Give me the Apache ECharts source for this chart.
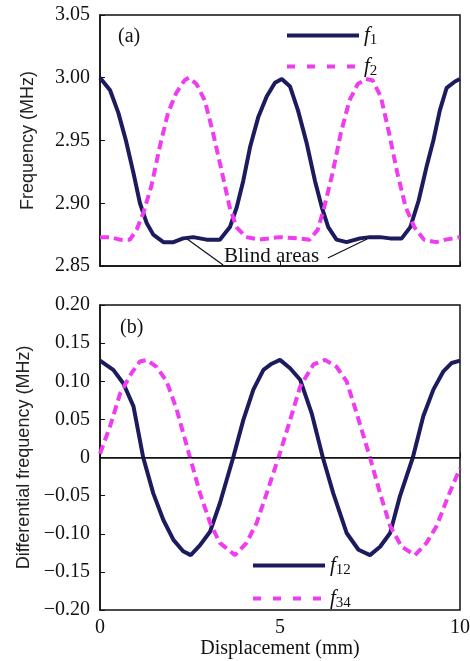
<!DOCTYPE html>
<html>
<head>
<meta charset="utf-8">
<script src="https://cdn.jsdelivr.net/npm/echarts@6/dist/echarts.min.js"></script>
<style>
  html, body { margin: 0; padding: 0; background: #fff; }
  #main { width: 470px; height: 661px; }
</style>
</head>
<body>
<div id="main"></div>
<script>
// ---- panel (a): frequency vs displacement ----
const f1X = [0, 0.28, 0.51, 0.72, 0.93, 1.11, 1.30, 1.48, 1.76, 2.04, 2.31, 2.59, 2.96, 3.33, 3.61, 3.80, 3.98, 4.17, 4.40, 4.63, 4.86, 5.05, 5.28, 5.50, 5.74, 5.97, 6.16, 6.34, 6.57, 6.85, 7.22, 7.50, 7.78, 8.06, 8.38, 8.62, 8.85, 9.07, 9.26, 9.44, 9.63, 9.86, 10];
const f1Y = [3.000, 2.990, 2.972, 2.950, 2.924, 2.900, 2.884, 2.875, 2.869, 2.869, 2.872, 2.873, 2.871, 2.871, 2.881, 2.897, 2.918, 2.945, 2.969, 2.985, 2.996, 2.999, 2.993, 2.974, 2.948, 2.918, 2.897, 2.881, 2.871, 2.869, 2.872, 2.873, 2.873, 2.872, 2.872, 2.881, 2.902, 2.929, 2.950, 2.974, 2.992, 2.997, 2.999];
const f2X = [0, 0.28, 0.55, 0.83, 1.02, 1.20, 1.43, 1.66, 1.89, 2.12, 2.35, 2.47, 2.68, 2.91, 3.14, 3.37, 3.60, 3.79, 4.06, 4.43, 4.99, 5.54, 5.82, 6.05, 6.23, 6.46, 6.69, 6.93, 7.16, 7.39, 7.57, 7.80, 8.03, 8.26, 8.49, 8.73, 9.00, 9.33, 9.60, 10];
const f2Y = [2.873, 2.873, 2.871, 2.871, 2.879, 2.892, 2.914, 2.945, 2.972, 2.988, 2.998, 3.000, 2.995, 2.982, 2.956, 2.927, 2.897, 2.881, 2.873, 2.871, 2.873, 2.872, 2.871, 2.879, 2.897, 2.924, 2.956, 2.982, 2.995, 2.999, 2.998, 2.985, 2.956, 2.924, 2.897, 2.881, 2.871, 2.869, 2.871, 2.873];

// ---- panel (b): differential frequency ----
const f12X = [0, 0.37, 0.65, 0.93, 1.20, 1.48, 1.76, 2.04, 2.31, 2.52, 2.78, 3.06, 3.33, 3.70, 3.98, 4.26, 4.54, 4.77, 5.00, 5.28, 5.56, 5.88, 6.19, 6.48, 6.85, 7.18, 7.50, 7.78, 8.06, 8.33, 8.69, 8.98, 9.26, 9.54, 9.77, 10];
const f12Y = [0.127, 0.115, 0.097, 0.067, 0.000, -0.047, -0.082, -0.108, -0.123, -0.128, -0.115, -0.097, -0.060, 0.000, 0.049, 0.089, 0.115, 0.123, 0.128, 0.117, 0.102, 0.058, 0.000, -0.047, -0.099, -0.121, -0.128, -0.117, -0.099, -0.051, 0.000, 0.054, 0.089, 0.113, 0.124, 0.127];
const f34X = [0, 0.28, 0.56, 0.88, 1.11, 1.30, 1.57, 1.85, 2.13, 2.50, 2.78, 3.06, 3.33, 3.75, 4.07, 4.35, 4.63, 5.00, 5.28, 5.56, 5.93, 6.25, 6.57, 6.85, 7.13, 7.50, 7.78, 8.06, 8.38, 8.75, 9.07, 9.35, 9.67, 10];
const f34Y = [0.005, 0.041, 0.084, 0.111, 0.126, 0.128, 0.119, 0.100, 0.063, 0.000, -0.047, -0.086, -0.112, -0.128, -0.112, -0.086, -0.047, 0.006, 0.049, 0.093, 0.122, 0.128, 0.119, 0.100, 0.058, 0.000, -0.047, -0.090, -0.117, -0.128, -0.112, -0.090, -0.051, -0.014];

const xTicks = [0, 5, 10];

const navy = '#1b1b5e';
const pink = '#f03cf0';
const serif = '"Liberation Serif", "Times New Roman", serif';
const sans = '"Liberation Sans", Arial, sans-serif';

function zip(xs, ys) {
  return xs.map((x, i) => [x, ys[i]]);
}

// legend text: italic f + subscript
const legendRich = {
  i: { fontFamily: serif, fontStyle: 'italic', fontSize: 21, color: '#111' },
  s: { fontFamily: serif, fontSize: 15, color: '#111', padding: [10, 0, 0, 0] }
};
function subName(name) {
  return '{i|f}{s|' + name.slice(1) + '}';
}

const chart = echarts.init(document.getElementById('main'));

function xAxisOf(idx, showLabel) {
  return {
    type: 'value', gridIndex: idx, min: 0, max: 10, interval: 5,
    axisLine: { show: true, lineStyle: { color: '#111', width: 1.5 } },
    axisTick: { show: true, inside: true, length: 5, lineStyle: { color: '#111' } },
    splitLine: { show: false },
    axisLabel: {
      show: showLabel, margin: 8, fontFamily: serif, fontSize: 20, color: '#111',
      formatter: v => xTicks.includes(v) ? String(v) : ''
    },
    name: showLabel ? 'Displacement (mm)' : '',
    nameLocation: 'middle', nameGap: 28,
    nameTextStyle: { fontFamily: serif, fontSize: 20, color: '#111' }
  };
}

const option = {
  animation: false,
  backgroundColor: '#fff',
  grid: [
    { left: 100, right: 10, top: 15, bottom: 395, show: true, borderColor: '#111', borderWidth: 1.5, outerBoundsMode: 'none' },
    { left: 100, right: 10, top: 305, bottom: 51, show: true, borderColor: '#111', borderWidth: 1.5, outerBoundsMode: 'none' }
  ],
  xAxis: [xAxisOf(0, false), xAxisOf(1, true)],
  yAxis: [
    {
      type: 'value', gridIndex: 0, min: 2.85, max: 3.05, interval: 0.05,
      axisLine: { show: true, lineStyle: { color: '#111', width: 1.5 } },
      axisTick: { show: true, inside: true, length: 5, lineStyle: { color: '#111' } },
      splitLine: { show: false },
      axisLabel: { margin: 10, fontFamily: serif, fontSize: 20, color: '#111', formatter: v => v.toFixed(2) },
      name: 'Frequency (MHz)', nameLocation: 'middle', nameGap: 63,
      nameTextStyle: { fontFamily: sans, fontSize: 18, color: '#222' }
    },
    {
      type: 'value', gridIndex: 1, min: -0.2, max: 0.2, interval: 0.05,
      axisLine: { show: true, lineStyle: { color: '#111', width: 1.5 } },
      axisTick: { show: true, inside: true, length: 5, lineStyle: { color: '#111' } },
      splitLine: { show: false },
      axisLabel: {
        margin: 10, fontFamily: serif, fontSize: 20, color: '#111',
        formatter: v => Math.abs(v) < 1e-9 ? '0' : (v < 0 ? '\u2212' + Math.abs(v).toFixed(2) : v.toFixed(2))
      },
      name: 'Differential frequency (MHz)', nameLocation: 'middle', nameGap: 64,
      nameTextStyle: { fontFamily: sans, fontSize: 18, color: '#222' }
    }
  ],
  legend: [
    {
      orient: 'vertical', left: 280, top: 20, itemWidth: 72, itemHeight: 12, itemGap: 8,
      itemStyle: { opacity: 0 },
      lineStyle: { width: 4 },
      data: [
        { name: 'f1' },
        { name: 'f2', lineStyle: { type: [8, 12], width: 4 } }
      ],
      formatter: subName,
      textStyle: { rich: legendRich }
    },
    {
      orient: 'vertical', left: 246, top: 550, itemWidth: 72, itemHeight: 12, itemGap: 10,
      itemStyle: { opacity: 0 },
      lineStyle: { width: 4 },
      data: [
        { name: 'f12' },
        { name: 'f34', lineStyle: { type: [8, 12], width: 4 } }
      ],
      formatter: subName,
      textStyle: { rich: legendRich }
    }
  ],
  graphic: [
    { type: 'text', left: 118, top: 27, style: { text: '(a)', font: '20px ' + serif, fill: '#111' } },
    { type: 'text', left: 120, top: 318, style: { text: '(b)', font: '20px ' + serif, fill: '#111' } },
    { type: 'text', left: 224, top: 246, style: { text: 'Blind areas', font: '21px ' + serif, fill: '#111' } }
  ],
  series: [
    {
      name: 'f1', type: 'line', xAxisIndex: 0, yAxisIndex: 0,
      data: zip(f1X, f1Y), symbol: 'none',
      lineStyle: { color: navy, width: 4 }, itemStyle: { color: navy },
      markLine: {
        silent: true, symbol: 'none', label: { show: false },
        lineStyle: { color: '#111', width: 1.2, type: 'solid' },
        data: [
          [{ coord: [2.42, 2.8715] }, { coord: [3.42, 2.8508] }],
          [{ coord: [6.33, 2.8564] }, { coord: [7.42, 2.8715] }]
        ]
      }
    },
    {
      name: 'f2', type: 'line', xAxisIndex: 0, yAxisIndex: 0,
      data: zip(f2X, f2Y), symbol: 'none',
      lineStyle: { color: pink, width: 4, type: [9, 5] }, itemStyle: { color: pink }
    },
    {
      name: 'f12', type: 'line', xAxisIndex: 1, yAxisIndex: 1,
      data: zip(f12X, f12Y), symbol: 'none',
      lineStyle: { color: navy, width: 4 }, itemStyle: { color: navy },
      markLine: {
        silent: true, symbol: 'none', label: { show: false },
        lineStyle: { color: '#111', width: 1, type: 'solid' },
        data: [{ yAxis: 0 }]
      }
    },
    {
      name: 'f34', type: 'line', xAxisIndex: 1, yAxisIndex: 1,
      data: zip(f34X, f34Y), symbol: 'none',
      lineStyle: { color: pink, width: 4, type: [9, 5] }, itemStyle: { color: pink }
    }
  ]
};

chart.setOption(option);
</script>
</body>
</html>
